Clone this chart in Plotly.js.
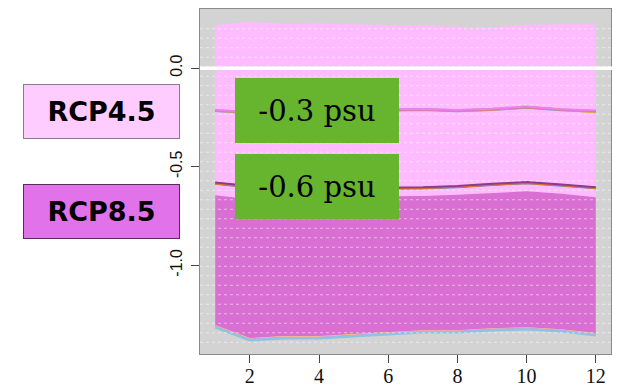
<!DOCTYPE html>
<html>
<head>
<meta charset="utf-8">
<script src="https://cdn.plot.ly/plotly-3.0.1.min.js"></script>
<style>html,body{margin:0;padding:0;background:#fff;}#chart{width:619px;height:390px;}</style>
</head>
<body>
<div id="chart"></div>
<script>
// ---- data ----
const months = [1,2,3,4,5,6,7,8,9,10,11,12];
const xTicks = [2,4,6,8,10,12];
const yTicks = [-1.0,-0.5,0.0];
const yTickText = ["-1.0","-0.5","0.0"];

// RCP4.5 envelope
const rcp45Upper = [0.218,0.235,0.225,0.227,0.223,0.218,0.218,0.210,0.208,0.220,0.223,0.223];
const rcp45Lower = [-0.700,-0.720,-0.710,-0.710,-0.700,-0.700,-0.690,-0.690,-0.680,-0.670,-0.680,-0.700];
// RCP4.5 members
const rcp45A = [-0.212,-0.222,-0.218,-0.216,-0.214,-0.210,-0.207,-0.212,-0.206,-0.195,-0.208,-0.215];
const rcp45B = [-0.218,-0.229,-0.224,-0.221,-0.219,-0.215,-0.212,-0.219,-0.212,-0.201,-0.214,-0.221];
const rcp45C = [-0.216,-0.226,-0.222,-0.219,-0.217,-0.213,-0.210,-0.216,-0.211,-0.199,-0.213,-0.224];
const rcp45D = [-0.214,-0.224,-0.220,-0.218,-0.216,-0.212,-0.209,-0.214,-0.208,-0.197,-0.210,-0.218];

// RCP8.5 envelope
const rcp85Upper = [-0.645,-0.665,-0.660,-0.655,-0.652,-0.650,-0.648,-0.642,-0.632,-0.625,-0.637,-0.655];
const rcp85Lower = [-1.315,-1.380,-1.370,-1.370,-1.360,-1.350,-1.340,-1.340,-1.330,-1.325,-1.335,-1.355];
// RCP8.5 members (mean level)
const rcp85A = [-0.580,-0.598,-0.601,-0.603,-0.604,-0.605,-0.604,-0.598,-0.587,-0.578,-0.590,-0.604];
const rcp85B = [-0.585,-0.603,-0.606,-0.608,-0.609,-0.610,-0.608,-0.602,-0.591,-0.582,-0.594,-0.608];
const rcp85C = [-0.587,-0.606,-0.609,-0.611,-0.611,-0.612,-0.610,-0.604,-0.593,-0.584,-0.596,-0.609];
const rcp85D = [-0.583,-0.601,-0.604,-0.606,-0.607,-0.608,-0.607,-0.601,-0.590,-0.581,-0.593,-0.607];
// lowest members
const lowA = [-1.309,-1.374,-1.364,-1.364,-1.354,-1.344,-1.334,-1.334,-1.324,-1.319,-1.329,-1.349];
const lowB = [-1.311,-1.376,-1.366,-1.366,-1.356,-1.346,-1.336,-1.336,-1.326,-1.321,-1.331,-1.351];
const lowC = rcp85Lower;

const labels = ["RCP4.5","RCP8.5"];
const changeText = ["-0.3 psu","-0.6 psu"];
const changeAt = [-0.216,-0.602];

// ---- traces ----
function band(up, lo, color){
  return [
    {x: months, y: up, mode:'lines', line:{width:0, color:color}, hoverinfo:'skip'},
    {x: months, y: lo, mode:'lines', line:{width:0, color:color}, fill:'tonexty', fillcolor:color, hoverinfo:'skip'}
  ];
}
function ln(y, color, w){
  return {x: months, y: y, mode:'lines', line:{color:color, width:w||2}, hoverinfo:'skip'};
}
const traces = [].concat(
  band(rcp45Upper, rcp45Lower, '#ffbbff'),
  band(rcp85Upper, rcp85Lower, '#da6fd3'),
  [
    ln(rcp45B,'#6ca0dc'), ln(rcp45C,'#f0a040'), ln(rcp45D,'#c568c5'), ln(rcp45A,'#ee7fee'),
    ln(rcp85D,'#8b5a3a'), ln(rcp85C,'#6a8fb8'), ln(rcp85B,'#e8761e'), ln(rcp85A,'#8e3a8e'),
    ln(lowA,'#f0dc6a'), ln(lowB,'#f090d0'), ln(lowC,'#8ec3e2', 2.5)
  ]
);

// ---- dotted grid + zero line ----
const shapes = [];
for (let k = 0; k <= 33; k++) {
  const v = 0.2 - k*0.0482;
  shapes.push({type:'line', xref:'paper', x0:0, x1:1, yref:'y', y0:v, y1:v, layer:'above',
               line:{color:'rgba(255,255,255,0.5)', width:1, dash:'3px,3px'}});
}
shapes.push({type:'line', xref:'paper', x0:0, x1:1.02, yref:'y', y0:0, y1:0, layer:'above',
             line:{color:'#ffffff', width:3.5}});

// ---- annotations ----
const annotations = [];
changeText.forEach((t,i)=>{
  annotations.push({xref:'x', yref:'y', x:3.95, y:changeAt[i], xanchor:'center', yanchor:'middle',
    text:t, showarrow:false,
    width:164, height:65, bgcolor:'#67b52f', borderpad:0, borderwidth:0,
    font:{family:'DejaVu Serif', size:29, color:'#000'}});
});
const labelY = [-0.221, -0.728];
const labelBg = ['#ffccff', '#e272ea'];
const labelBorder = ['#8a7a8a', '#5a2a5a'];
labels.forEach((t,i)=>{
  annotations.push({xref:'paper', yref:'y', x:-0.2397, y:labelY[i], xanchor:'center', yanchor:'middle',
    text:t, showarrow:false,
    width:155, height:53, bgcolor:labelBg[i], bordercolor:labelBorder[i], borderwidth:1, borderpad:0,
    font:{family:'DejaVu Sans', size:27, color:'#000', weight:'bold'}});
});

const layout = {
  width: 619, height: 390,
  margin: {l:200, r:8, t:9, b:36},
  paper_bgcolor: '#ffffff',
  plot_bgcolor: '#d3d3d3',
  showlegend: false,
  xaxis: {
    range:[0.56,12.44], tickmode:'array', tickvals:xTicks, ticktext:xTicks.map(String),
    ticks:'outside', ticklen:8, tickcolor:'#444', tickwidth:1,
    showgrid:false, zeroline:false, showline:true, mirror:true, linecolor:'#8a8a8a', linewidth:1,
    tickfont:{family:'Liberation Serif', size:20, color:'#111'}, ticklabelstandoff:-4
  },
  yaxis: {
    range:[-1.45,0.30], tickmode:'array', tickvals:yTicks, ticktext:yTickText, tickangle:-90,
    ticks:'outside', ticklen:8, tickcolor:'#444', tickwidth:1,
    showgrid:false, zeroline:false, showline:true, mirror:true, linecolor:'#8a8a8a', linewidth:1,
    tickfont:{family:'Liberation Sans', size:16, color:'#111'}, ticklabelstandoff:3
  },
  shapes: shapes,
  annotations: annotations
};

Plotly.newPlot('chart', traces, layout, {staticPlot:true, displayModeBar:false});
</script>
</body>
</html>
